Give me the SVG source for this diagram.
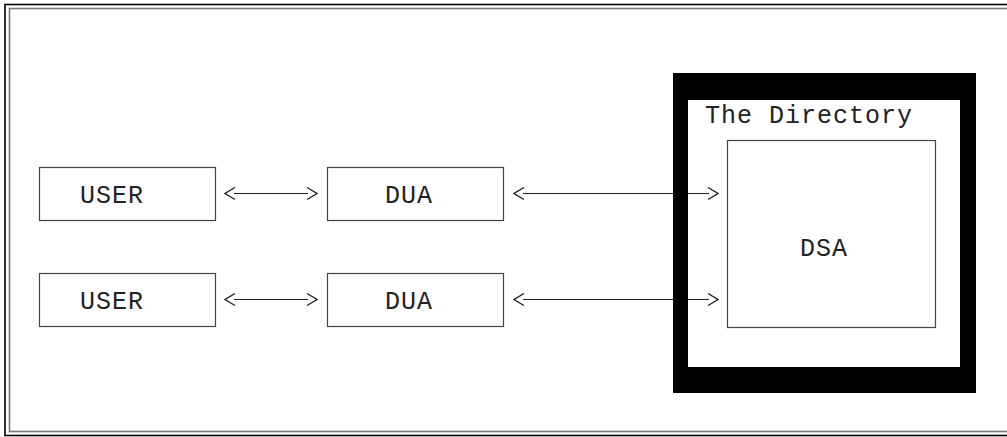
<svg xmlns="http://www.w3.org/2000/svg" width="1007" height="437" viewBox="0 0 1007 437">
<style>
.box{fill:#fff;stroke:#444;stroke-width:1.2}
.lbl{font-family:"Liberation Mono","Courier New",monospace;font-size:25px;letter-spacing:1px;fill:#222}
.conn{fill:none;stroke:#222;stroke-width:1.2}
</style>
<defs>
<marker id="chev" viewBox="-1 -1 12 14" refX="1" refY="6" markerWidth="12" markerHeight="14" markerUnits="userSpaceOnUse" orient="auto-start-reverse">
<path d="M0,0 L10,6 L0,12" fill="none" stroke="#222" stroke-width="1.3"/>
</marker>
</defs>
<rect width="1007" height="437" fill="#fff"/>
<g id="frame">
<rect x="5" y="4.5" width="1010" height="431" fill="none" stroke="#000" stroke-width="1.6"/>
<rect x="9.5" y="8.5" width="1005" height="423" fill="none" stroke="#777" stroke-width="1.6"/>
</g>
<g id="connectors">
<path class="conn" d="M234,193.5 H308" marker-start="url(#chev)" marker-end="url(#chev)"/>
<path class="conn" d="M523,193.5 H709" marker-start="url(#chev)" marker-end="url(#chev)"/>
<path class="conn" d="M234,299.5 H308" marker-start="url(#chev)" marker-end="url(#chev)"/>
<path class="conn" d="M523,299.5 H709" marker-start="url(#chev)" marker-end="url(#chev)"/>
</g>
<g id="user1">
<rect class="box" x="39.5" y="167.5" width="176" height="53"/>
<text class="lbl" x="80" y="203">USER</text>
</g>
<g id="user2">
<rect class="box" x="39.5" y="273.5" width="176" height="53"/>
<text class="lbl" x="80" y="309">USER</text>
</g>
<g id="dua1">
<rect class="box" x="327.5" y="167.5" width="176" height="53"/>
<text class="lbl" x="385" y="203">DUA</text>
</g>
<g id="dua2">
<rect class="box" x="327.5" y="273.5" width="176" height="53"/>
<text class="lbl" x="385" y="309">DUA</text>
</g>
<g id="directory">
<path d="M673,73 H976 V393 H673 Z M688,100 V367 H960 V100 Z" fill="#000" fill-rule="evenodd"/>
<text class="lbl" x="705" y="123">The Directory</text>
</g>
<g id="dsa">
<rect class="box" x="727.5" y="140.5" width="208" height="187"/>
<text class="lbl" x="800" y="256">DSA</text>
</g>
</svg>
